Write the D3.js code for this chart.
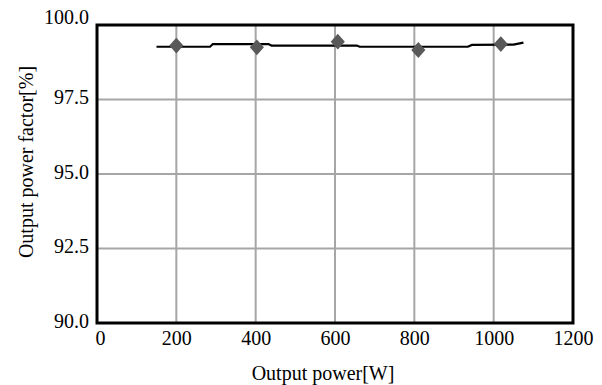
<!DOCTYPE html>
<html>
<head>
<meta charset="utf-8">
<script src="https://cdn.jsdelivr.net/npm/d3@7"></script>
<style>
  body { margin: 0; background: #fff; }
  svg text { font-family: "Liberation Serif", "Times New Roman", serif; }
</style>
</head>
<body>
<div id="chart"></div>
<script>
// measured points (diamonds)
var pointPower = [200, 403, 607, 810, 1018];
var pointPf = [99.31, 99.25, 99.44, 99.16, 99.36];

// black trend line
var linePower = [150, 285, 292, 432, 440, 655, 662, 935, 945, 1050, 1075];
var linePf = [99.27, 99.27, 99.36, 99.36, 99.31, 99.31, 99.27, 99.27, 99.33, 99.34, 99.41];

var xTicks = [0, 200, 400, 600, 800, 1000, 1200];
var yTicks = [90, 92.5, 95, 97.5, 100];

function init() {
    var w = 602;
    var h = 385;
    var left = 97, right = 573, top = 25, bottom = 323;
    var font = "Liberation Serif";

    var svg = d3.select("#chart")
        .append("svg")
        .attr("width", w)
        .attr("height", h);

    var xScale = d3.scaleLinear()
        .domain([0, 1200])
        .range([left, right]);

    var yScale = d3.scaleLinear()
        .domain([90, 100])
        .range([bottom, top]);

    // grid lines
    svg.append("g")
        .selectAll("line")
        .data(xTicks.slice(1, -1))
        .enter()
        .append("line")
        .attr("x1", function(d) { return xScale(d); })
        .attr("x2", function(d) { return xScale(d); })
        .attr("y1", top)
        .attr("y2", bottom)
        .attr("stroke", "#a6a6a6")
        .attr("stroke-width", 2);

    svg.append("g")
        .selectAll("line")
        .data(yTicks.slice(1, -1))
        .enter()
        .append("line")
        .attr("x1", left)
        .attr("x2", right)
        .attr("y1", function(d) { return yScale(d); })
        .attr("y2", function(d) { return yScale(d); })
        .attr("stroke", "#a6a6a6")
        .attr("stroke-width", 2);

    // axes (labels only, frame drawn separately)
    var xAxis = d3.axisBottom(xScale)
        .tickValues(xTicks)
        .tickSize(0)
        .tickPadding(8)
        .tickFormat(d3.format("d"));

    var gx = svg.append("g")
        .attr("transform", "translate(0," + bottom + ")")
        .call(xAxis)
        .attr("font-family", font)
        .attr("font-size", 20);
    gx.select(".domain").remove();
    gx.selectAll("text")
        .style("font-family", font)
        .attr("fill", "#000");
    gx.selectAll(".tick").filter(function(d) { return d === 0; })
        .select("text").attr("dx", "3");

    var yAxis = d3.axisLeft(yScale)
        .tickValues(yTicks)
        .tickSize(0)
        .tickPadding(8)
        .tickFormat(d3.format(".1f"));

    var gy = svg.append("g")
        .attr("transform", "translate(" + left + ",0)")
        .call(yAxis)
        .attr("font-family", font)
        .attr("font-size", 20);
    gy.select(".domain").remove();
    gy.selectAll("text")
        .style("font-family", font)
        .attr("fill", "#000")
        .attr("dy", "0.2em");
    gy.selectAll(".tick").filter(function(d) { return d === 100; })
        .select("text").attr("dy", "-0.1em");

    // line
    var lineData = linePower.map(function(p, i) { return [p, linePf[i]]; });
    var line = d3.line()
        .x(function(d) { return xScale(d[0]); })
        .y(function(d) { return yScale(d[1]); });

    svg.append("path")
        .datum(lineData)
        .attr("d", line)
        .attr("fill", "none")
        .attr("stroke", "#000")
        .attr("stroke-width", 2.2);

    // diamonds
    var pts = pointPower.map(function(p, i) { return [p, pointPf[i]]; });
    svg.append("g")
        .selectAll("path")
        .data(pts)
        .enter()
        .append("path")
        .attr("d", d3.symbol().type(d3.symbolSquare).size(100))
        .attr("transform", function(d) {
            return "translate(" + xScale(d[0]) + "," + yScale(d[1]) + ") scale(1,1.12) rotate(45)";
        })
        .attr("fill", "#595959");

    // frame
    svg.append("rect")
        .attr("x", left)
        .attr("y", top)
        .attr("width", right - left)
        .attr("height", bottom - top)
        .attr("fill", "none")
        .attr("stroke", "#000")
        .attr("stroke-width", 3);

    // axis titles
    svg.append("text")
        .attr("text-anchor", "middle")
        .attr("x", 323)
        .attr("y", 380)
        .attr("font-size", "20px")
        .style("font-family", font)
        .attr("fill", "#000")
        .text("Output power[W]");

    svg.append("text")
        .attr("text-anchor", "middle")
        .attr("transform", "rotate(-90)")
        .attr("x", -162)
        .attr("y", 33)
        .attr("font-size", "20px")
        .style("font-family", font)
        .attr("fill", "#000")
        .text("Output power factor[%]");
}
window.onload = init;
</script>
</body>
</html>
